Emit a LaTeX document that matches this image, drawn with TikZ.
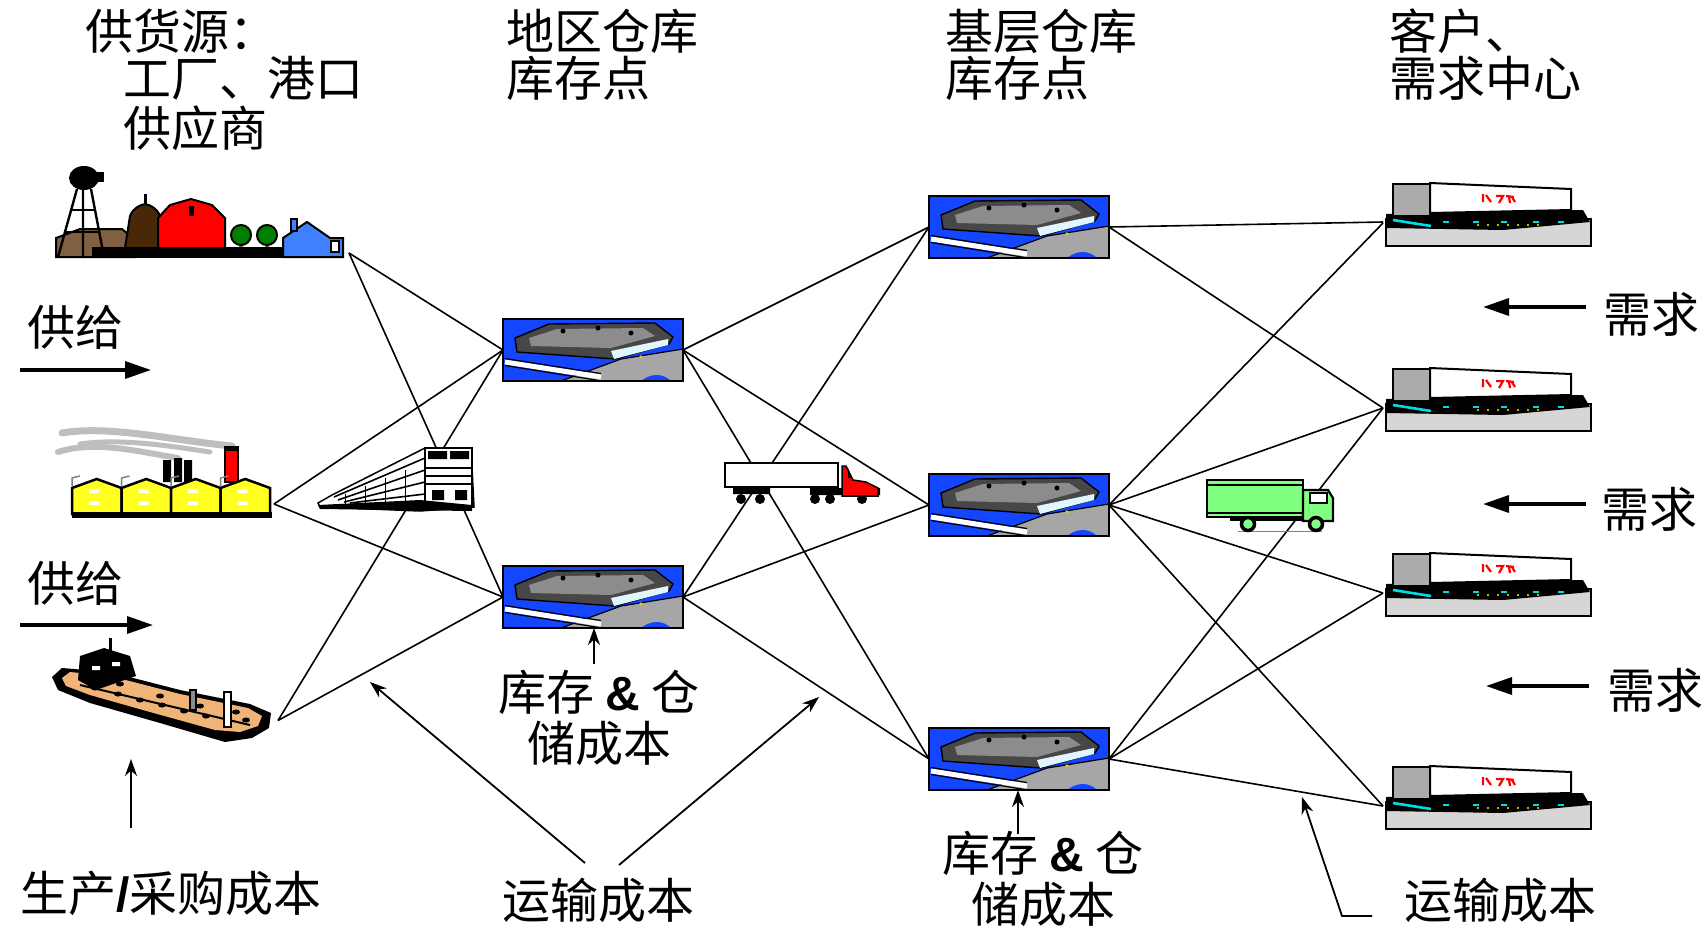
\documentclass[tikz,border=0pt]{standalone}
\usepackage{fontspec}
\setmainfont{Noto Sans CJK SC}
\newfontfamily\ampfont{Liberation Sans}
\usetikzlibrary{arrows.meta,calc}

\definecolor{whblue}{RGB}{20,70,255}
\definecolor{farmbrown}{RGB}{128,96,64}
\definecolor{silobrown}{RGB}{72,40,8}
\definecolor{treegreen}{RGB}{0,128,0}
\definecolor{houseblue}{RGB}{64,128,255}
\definecolor{factyellow}{RGB}{255,255,32}
\definecolor{smokegray}{RGB}{190,190,190}
\definecolor{shiptan}{RGB}{240,180,120}
\definecolor{truckgreen}{RGB}{128,255,128}
\definecolor{storecyan}{RGB}{0,220,230}

\tikzset{
  x=1pt, y=-1pt,
  iconbox/.style={draw=none, inner sep=0pt, outer sep=0pt, anchor=north west},
  lbl/.style={font=\fontsize{48}{51}\selectfont, inner sep=0pt},
  conn/.style={line width=1.6pt, black},
  flowarrow/.style={line width=3.4pt, -{Triangle[length=26pt,width=17pt]}},
  costarrow/.style={line width=1.8pt, -{Stealth[length=17pt,width=12pt]}},
  % regional / local warehouse icon, 180 x 62
  warehouse/.pic={
    \fill[whblue] (0,0) rectangle (180,62);
    \fill[black!35] (58,62) -- (118,40) -- (180,30) -- (180,62) -- cycle;
    \draw[line width=1.2pt] (58,62) -- (118,40) -- (180,30);
    \fill[whblue] (138,62) .. controls (148,54) and (160,54) .. (168,62) -- cycle;
    \draw[line width=5pt, white] (2,43) -- (98,58);
    \draw[line width=1.2pt] (2,39.5) -- (98,54.5);
    \draw[line width=1.2pt] (2,46.5) -- (96,61.5);
    \filldraw[fill=black!72, line width=1.4pt] (12,19) -- (46,5) -- (152,4) -- (170,18) -- (166,25) -- (112,40) -- (14,33) -- cycle;
    \fill[black!45] (26,19) -- (54,10) -- (140,9) -- (152,17) -- (108,29) -- (28,27) -- cycle;
    \fill[cyan!12] (108,32) -- (165,20) -- (165,26) -- (111,40) -- cycle;
    \fill (60,12) circle (2.5) (95,9) circle (2.5) (128,14) circle (2.5);
    \fill[yellow!80!black] (138,38) circle (1.8);
    \draw[line width=2.4pt] (0,0) rectangle (180,62);
  },
  % customer / demand centre icon, 210 x 64
  store/.pic={
    \filldraw[fill=black!16, line width=2.2pt] (3,36) rectangle (208,63);
    \fill (3,31) -- (200,27) -- (207,39) -- (120,47) -- (3,45) -- cycle;
    \draw[storecyan, line width=2.6pt] (10,37) -- (48,43);
    \foreach \px in {60,90,118,150,175} {\fill[storecyan] (\px,38) rectangle ++(6,2);}
    \foreach \px in {95,105,115,125,135,145,155} {\fill[yellow] (\px,42) circle (1.2);}
    \filldraw[fill=black!33, line width=2pt] (10,1) rectangle (47,33);
    \filldraw[fill=white, line width=2pt] (47,0) -- (188,6) -- (188,27) -- (47,30) -- cycle;
    \draw[red, line width=2.2pt] (100,11) -- (100,19) (103,12) -- (108,19)
      (113,13) -- (120,13) -- (116,20) (123,13) -- (131,14) (126,14) -- (127,20) (129,14) -- (132,19);
  },
}

\begin{document}
\begin{tikzpicture}
\useasboundingbox (0,0) rectangle (1708,927);

% ---------- node boxes ----------
\node[iconbox, minimum width=295pt, minimum height=93pt] (farm) at (54,160) {};
\node[iconbox, minimum width=202pt, minimum height=36pt] (factory) at (72,486) {};
\node[iconbox, minimum width=226pt, minimum height=97pt] (ship) at (52,648) {};

\node[iconbox, minimum width=180pt, minimum height=62pt] (rw1) at (503,319) {};
\node[iconbox, minimum width=180pt, minimum height=62pt] (rw2) at (503,566) {};

\node[iconbox, minimum width=180pt, minimum height=62pt] (bw1) at (929,196) {};
\node[iconbox, minimum width=180pt, minimum height=62pt] (bw2) at (929,474) {};
\node[iconbox, minimum width=180pt, minimum height=62pt] (bw3) at (929,728) {};

\node[iconbox, minimum width=210pt, minimum height=64pt] (s1) at (1383,183) {};
\node[iconbox, minimum width=210pt, minimum height=64pt] (s2) at (1383,368) {};
\node[iconbox, minimum width=210pt, minimum height=64pt] (s3) at (1383,553) {};
\node[iconbox, minimum width=210pt, minimum height=64pt] (s4) at (1383,766) {};

% ---------- network links ----------
\draw[conn] (farm.south east) -- (rw1.west);
\draw[conn] (farm.south east) -- (rw2.west);
\draw[conn] (factory.east) -- (rw1.west);
\draw[conn] (factory.east) -- (rw2.west);
\draw[conn] ([yshift=-24pt]ship.east) -- (rw1.west);
\draw[conn] ([yshift=-24pt]ship.east) -- (rw2.west);
\foreach \r in {rw1,rw2} {
  \foreach \b in {bw1,bw2,bw3} {\draw[conn] (\r.east) -- (\b.west);}
}
\draw[conn] (bw1.east) -- ([yshift=-7pt]s1.west);
\draw[conn] (bw1.east) -- ([yshift=-8pt]s2.west);
\foreach \s in {s1,s2,s3,s4} {\draw[conn] (bw2.east) -- ([yshift=-8pt]\s.west);}
\foreach \s in {s2,s3,s4} {\draw[conn] (bw3.east) -- ([yshift=-8pt]\s.west);}

% ---------- warehouses and customers ----------
\foreach \w in {rw1,rw2,bw1,bw2,bw3} {\pic at (\w.north west) {warehouse};}
\foreach \s in {s1,s2,s3,s4} {\pic at (\s.north west) {store};}

% ---------- farm ----------
\filldraw[fill=farmbrown, line width=2pt] (56,257) -- (56,238) -- (80,229) -- (122,229) -- (135,240) -- (135,257) -- cycle;
\filldraw[fill=silobrown, line width=2pt] (125,248) -- (130,216) .. controls (133,208) and (140,205) .. (145,204) .. controls (150,205) and (157,208) .. (160,216) -- (160,248) -- cycle;
\draw[line width=3pt] (145,204) -- (145,194);
\filldraw[fill=red, line width=2pt] (158,248) -- (158,218) -- (170,205) -- (191,199) -- (212,205) -- (225,218) -- (225,248) -- cycle;
\fill (189,206) rectangle (194,216);
\fill[farmbrown] (239,240) rectangle (243,248) (265,240) rectangle (269,248);
\filldraw[fill=treegreen, line width=2pt] (241,235) circle (10) (267,235) circle (10);
\fill (92,247) rectangle (283,258);
\filldraw[fill=houseblue, line width=2pt] (283,257) -- (283,238) -- (307,222) -- (330,238) -- (343,238) -- (343,257) -- cycle;
\filldraw[fill=houseblue, line width=1.5pt] (291,231) rectangle (297,219);
\filldraw[fill=white, line width=1.5pt] (331,241) rectangle (339,252);
% water tower
\fill (84,178) ellipse (15 and 12);
\fill (96,172) rectangle (104,182);
\draw[line width=2.4pt] (77,189) -- (58,257) (91,189) -- (104,257) (83,189) -- (83,258);
\draw[line width=1.5pt] (72,210) -- (96,210) (66,232) -- (100,232);

% ---------- factory ----------
\draw[smokegray, line width=7pt, line cap=round] (62,433) .. controls (110,425) and (170,440) .. (232,446);
\draw[smokegray, line width=6pt, line cap=round] (58,452) .. controls (95,440) and (140,452) .. (178,458);
\draw[smokegray, line width=5pt, line cap=round] (80,444) .. controls (120,438) and (170,446) .. (210,452);
\fill (163,460) rectangle (171,482) (174,458) rectangle (182,482) (184,460) rectangle (192,482);
\filldraw[fill=red, line width=1.5pt] (225,447) rectangle (238,482);
\fill (226,447) rectangle (237,451);
\foreach \i in {0,1,2,3} {
  \filldraw[fill=factyellow, line width=2.5pt] ({72+49.5*\i},514) -- ++(0,-26) -- ++(24.75,-9) -- ++(24.75,9) -- ++(0,26) -- cycle;
  \fill[white] ({89+49.5*\i},489) rectangle ++(10,4) ({89+49.5*\i},501) rectangle ++(10,4);
  \draw[black!50, line width=1.5pt] ({72+49.5*\i},486) -- ++(0,-8) -- ++(8,-2);
}
\fill (72,512) rectangle (272,518);

% ---------- ship ----------
\fill (52,677) -- (62,668) -- (110,672) -- (180,690) -- (250,704) -- (271,713) -- (269,728) -- (252,738) -- (225,742) -- (160,723) -- (90,703) -- (58,690) -- cycle;
\fill[shiptan] (62,678) -- (70,672) -- (110,676) -- (180,694) -- (248,708) -- (262,716) -- (258,726) -- (240,732) -- (215,730) -- (150,712) -- (90,695) -- (66,686) -- cycle;
\foreach \dx/\dy in {95/688,118/694,140/700,162/705,184/711,206/716,228/722,246/720,120/684,160/696,200/706,236/712} {\fill (\dx,\dy) ellipse (4 and 2.5);}
\draw[line width=2pt] (80,685) -- (250,725);
\fill (80,656) -- (104,648) -- (130,656) -- (136,676) -- (96,690) -- (78,680) -- cycle;
\fill[white] (92,666) rectangle (100,670) (112,662) rectangle (120,666);
\draw[line width=3pt] (110,638) -- (110,655);
\filldraw[fill=black!45, line width=1.2pt] (190,690) rectangle (196,710);
\filldraw[fill=white, line width=1.5pt] (224,692) rectangle (231,727);

% ---------- train ----------
\filldraw[fill=white, line width=1.5pt] (318,503) -- (332,495) -- (425,448) -- (471,448) -- (474,507) -- (420,511) -- (320,507) -- cycle;
\draw[line width=1.6pt] (334,497) -- (425,458) (338,500) -- (425,470) (344,502) -- (425,482) (350,503) -- (425,494);
\foreach \tx in {345,365,385,405} {\draw[line width=1pt] (\tx,{500-0.4*(\tx-330)}) -- (\tx,505);}
\filldraw[fill=white, line width=2pt] (425,448) rectangle (472,506);
\fill (428,451) rectangle (447,459) (450,451) rectangle (469,459);
\draw[line width=1.5pt] (425,468) -- (472,468) (425,476) -- (472,476) (425,484) -- (472,484);
\fill (318,505) -- (420,500) -- (472,505) -- (472,511) -- (320,509) -- cycle;
\fill (432,490) rectangle (444,500) (455,490) rectangle (467,500);

% ---------- red truck ----------
\filldraw[fill=white, line width=2pt] (725,463) rectangle (838,487);
\fill (733,487) rectangle (770,494) (810,488) rectangle (880,495);
\fill (741,499) circle (5) (760,499) circle (5) (815,499) circle (5) (830,499) circle (5) (862,499) circle (5);
\filldraw[fill=red, line width=1.5pt] (842,466) -- (846,466) -- (853,480) -- (866,482) -- (878,488) -- (878,496) -- (842,496) -- cycle;
\fill (848,468) -- (852,478) -- (848,478) -- cycle;

% ---------- green truck ----------
\draw[black!50, line width=1pt] (1238,531) -- (1322,531);
\filldraw[fill=truckgreen, line width=2.4pt] (1207,480) rectangle (1303,517);
\draw[line width=2pt] (1207,484.5) -- (1303,484.5) (1207,513) -- (1303,513);
\filldraw[fill=truckgreen, line width=2.2pt] (1303,490) -- (1328,490) -- (1333,498) -- (1333,521) -- (1303,521) -- cycle;
\filldraw[fill=white, line width=1.2pt] (1310,493) rectangle (1327,503);
\fill (1230,517) rectangle (1303,521);
\filldraw[fill=truckgreen, line width=3.5pt] (1248,524) circle (6.5) (1316,524) circle (6.5);

% ---------- column headings ----------
\node[lbl, anchor=west] (hsrc1) at (85,31) {供货源：};
\node[lbl, anchor=west] (hsrc2) at (123,78) {工厂、港口};
\node[lbl, anchor=west] (hsrc3) at (123,128) {供应商};
\node[lbl, anchor=west] (hrw1) at (506,31) {地区仓库};
\node[lbl, anchor=west] (hrw2) at (506,78) {库存点};
\node[lbl, anchor=west] (hbw1) at (945,31) {基层仓库};
\node[lbl, anchor=west] (hbw2) at (945,78) {库存点};
\node[lbl, anchor=west] (hcu1) at (1389,31) {客户、};
\node[lbl, anchor=west] (hcu2) at (1389,78) {需求中心};

% ---------- supply and demand flows ----------
\node[lbl, anchor=west] (sup1) at (27,327) {供给};
\node[lbl, anchor=west] (sup2) at (27,583) {供给};
\coordinate (sup1a) at (20,370);  \coordinate (sup1b) at (151,370);
\coordinate (sup2a) at (20,625);  \coordinate (sup2b) at (153,625);
\draw[flowarrow] (sup1a) -- (sup1b);
\draw[flowarrow] (sup2a) -- (sup2b);

\node[lbl, anchor=west] (dem1) at (1603,314) {需求};
\node[lbl, anchor=west] (dem2) at (1601,509) {需求};
\node[lbl, anchor=west] (dem3) at (1607,690) {需求};
\coordinate (dem1a) at (1586,307); \coordinate (dem1b) at (1483,307);
\coordinate (dem2a) at (1586,504); \coordinate (dem2b) at (1483,504);
\coordinate (dem3a) at (1589,686); \coordinate (dem3b) at (1486,686);
\draw[flowarrow] (dem1a) -- (dem1b);
\draw[flowarrow] (dem2a) -- (dem2b);
\draw[flowarrow] (dem3a) -- (dem3b);

% ---------- cost labels ----------
\node[lbl, anchor=west] (prodcost) at (20,893) {生产{\ampfont\bfseries /}采购成本};
\coordinate (prodtail) at (131,828);
\coordinate (prodhead) at (131,759);
\draw[costarrow] (prodtail) -- (prodhead);

\node[lbl, align=center] (invcost1) at (599,718) {库存 {\ampfont\bfseries\&} 仓\\储成本};
\coordinate (inv1tail) at (594,664);
\draw[costarrow] (inv1tail) -- (inv1tail |- rw2.south);

\node[lbl, align=center] (invcost2) at (1043,879) {库存 {\ampfont\bfseries\&} 仓\\储成本};
\coordinate (inv2tail) at (1018,834);
\draw[costarrow] (inv2tail) -- (inv2tail |- bw3.south);

\node[lbl] (transcost1) at (598,900) {运输成本};
\coordinate (tc1l) at (585,863); \coordinate (tc1lh) at (370,682);
\coordinate (tc1r) at (619,865); \coordinate (tc1rh) at (819,697);
\draw[costarrow] (tc1l) -- (tc1lh);
\draw[costarrow] (tc1r) -- (tc1rh);

\node[lbl] (transcost2) at (1500,900) {运输成本};
\coordinate (tc2a) at (1372,916); \coordinate (tc2b) at (1342,916); \coordinate (tc2h) at (1302,797);
\draw[costarrow] (tc2a) -- (tc2b) -- (tc2h);

\end{tikzpicture}
\end{document}
